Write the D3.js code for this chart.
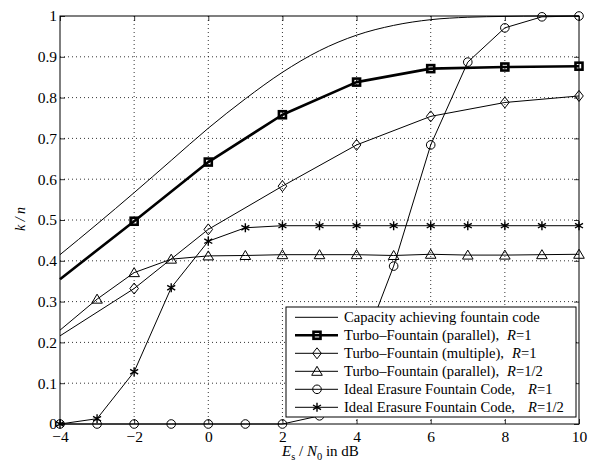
<!DOCTYPE html>
<html lang="en">
<head>
<meta charset="utf-8">
<title>Turbo-Fountain k/n vs Es/N0</title>
<script src="https://d3js.org/d3.v7.min.js"></script>
<style>
  body { margin: 0; background: #fff; }
  svg text { font-family: "Liberation Serif", "Times New Roman", serif; fill: #000; }
</style>
</head>
<body>
<script>
  // ---- data ----
  const capX = [-4, -3, -2, -1, 0, 1, 2, 3, 4, 5, 6, 7, 8, 9, 10];
  const capY = [0.415, 0.49, 0.567, 0.646, 0.725, 0.797, 0.862, 0.915, 0.953, 0.977, 0.991, 0.997, 0.999, 1.0, 1.0];

  const parR1X = [-4, -2, 0, 2, 4, 6, 8, 10];
  const parR1Y = [0.355, 0.497, 0.642, 0.758, 0.838, 0.871, 0.875, 0.877];

  const mulR1X = [-4, -2, 0, 2, 4, 6, 8, 10];
  const mulR1Y = [0.216, 0.332, 0.477, 0.583, 0.684, 0.754, 0.788, 0.804];

  const parR12X = [-4, -3, -2, -1, 0, 1, 2, 3, 4, 5, 6, 7, 8, 9, 10];
  const parR12Y = [0.23, 0.306, 0.371, 0.404, 0.412, 0.413, 0.415, 0.415, 0.415, 0.413, 0.416, 0.414, 0.414, 0.415, 0.416];

  const ideR1X = [-4, -3, -2, -1, 0, 1, 2, 3, 4, 5, 6, 7, 8, 9, 10];
  const ideR1Y = [0, 0, 0, 0, 0, 0, 0, 0.02, 0.15, 0.387, 0.684, 0.887, 0.971, 0.998, 1.0];

  const ideR12X = [-4, -3, -2, -1, 0, 1, 2, 3, 4, 5, 6, 7, 8, 9, 10];
  const ideR12Y = [0, 0.013, 0.128, 0.334, 0.448, 0.481, 0.486, 0.486, 0.486, 0.486, 0.486, 0.486, 0.486, 0.486, 0.486];

  const xTicks = [-4, -2, 0, 2, 4, 6, 8, 10];
  const yTicks = [0, 0.1, 0.2, 0.3, 0.4, 0.5, 0.6, 0.7, 0.8, 0.9, 1];

  const legendLabels = [
    ["Capacity achieving fountain code", ""],
    ["Turbo\u2013Fountain (parallel),", "=1"],
    ["Turbo\u2013Fountain (multiple),", "=1"],
    ["Turbo\u2013Fountain (parallel),", "=1/2"],
    ["Ideal Erasure Fountain Code,", "=1"],
    ["Ideal Erasure Fountain Code,", "=1/2"]
  ];
  // gap (px) before the italic R in each legend row
  const legendGaps = [0, 8, 8, 8, 13, 13];

  // ---- layout ----
  const W = 592, H = 461;
  const pLeft = 60, pRight = 579, pTop = 16, pBottom = 424;
  const serif = "'Liberation Serif', 'Times New Roman', serif";

  const x = d3.scaleLinear().domain([-4, 10]).range([pLeft, pRight]);
  const y = d3.scaleLinear().domain([0, 1]).range([pBottom, pTop]);

  const svg = d3.select("body").append("svg")
    .attr("width", W).attr("height", H)
    .style("font-family", serif);

  // grid
  const grid = svg.append("g")
    .attr("stroke", "#000").attr("stroke-width", 0.8)
    .attr("stroke-dasharray", "1,3");
  grid.selectAll(".gx").data(xTicks.slice(1, -1)).join("line")
    .attr("x1", d => x(d)).attr("x2", d => x(d))
    .attr("y1", pTop).attr("y2", pBottom);
  grid.selectAll(".gy").data(yTicks.slice(1, -1)).join("line")
    .attr("x1", pLeft).attr("x2", pRight)
    .attr("y1", d => y(d)).attr("y2", d => y(d));

  // axes (ticks pointing inward)
  const fmtX = d => d < 0 ? "\u2212" + Math.abs(d) : String(d);
  const fmtY = d => String(d);

  function styleAxis(g) {
    g.select(".domain").remove();
    g.attr("font-family", null);
    g.selectAll("line").attr("stroke", "#000").attr("stroke-width", 0.8);
    g.selectAll("text").attr("font-size", 15.5).attr("fill", "#000")
      .style("font-family", serif);
  }

  svg.append("g").attr("transform", `translate(0,${pBottom})`)
    .call(d3.axisBottom(x).tickValues(xTicks).tickFormat(fmtX).tickSize(-5).tickPadding(7))
    .call(styleAxis);
  svg.append("g").attr("transform", `translate(0,${pTop})`)
    .call(d3.axisTop(x).tickValues(xTicks).tickFormat("").tickSize(-5))
    .call(styleAxis);
  svg.append("g").attr("transform", `translate(${pLeft},0)`)
    .call(d3.axisLeft(y).tickValues(yTicks).tickFormat(fmtY).tickSize(-5).tickPadding(3))
    .call(styleAxis);
  svg.append("g").attr("transform", `translate(${pRight},0)`)
    .call(d3.axisRight(y).tickValues(yTicks).tickFormat("").tickSize(-5))
    .call(styleAxis);

  svg.append("rect")
    .attr("x", pLeft).attr("y", pTop)
    .attr("width", pRight - pLeft).attr("height", pBottom - pTop)
    .attr("fill", "none").attr("stroke", "#000").attr("stroke-width", 1);

  // ---- series ----
  const series = [
    { xs: capX, ys: capY, width: 1, marker: null, curve: d3.curveMonotoneX, skip: 0 },
    { xs: parR1X, ys: parR1Y, width: 2.6, marker: "square", curve: d3.curveLinear, skip: 1 },
    { xs: mulR1X, ys: mulR1Y, width: 1, marker: "diamond", curve: d3.curveLinear, skip: 1 },
    { xs: parR12X, ys: parR12Y, width: 1, marker: "triangle", curve: d3.curveLinear, skip: 1 },
    { xs: ideR1X, ys: ideR1Y, width: 1, marker: "circle", curve: d3.curveLinear, skip: 0 },
    { xs: ideR12X, ys: ideR12Y, width: 1, marker: "star", curve: d3.curveLinear, skip: 0 }
  ];

  function drawMarker(g, type, cx, cy) {
    const m = g.append("g").attr("transform", `translate(${cx},${cy})`)
      .attr("stroke", "#000").attr("fill", "none");
    if (type === "square") {
      m.append("rect").attr("x", -3.5).attr("y", -3.5).attr("width", 7).attr("height", 7)
        .attr("stroke-width", 2.6);
    } else if (type === "diamond") {
      m.append("path").attr("d", "M0,-5.5L4.3,0L0,5.5L-4.3,0Z").attr("stroke-width", 1);
    } else if (type === "triangle") {
      m.append("path").attr("d", "M0,-5L5.3,4L-5.3,4Z").attr("stroke-width", 1);
    } else if (type === "circle") {
      m.append("circle").attr("r", 4.3).attr("stroke-width", 1);
    } else if (type === "star") {
      m.append("path")
        .attr("d", "M0,-4.5L0,4.5M-4,-2.3L4,2.3M-4,2.3L4,-2.3")
        .attr("stroke-width", 1.4);
    }
  }

  const plot = svg.append("g");
  series.forEach(s => {
    const pts = s.xs.map((v, i) => [v, s.ys[i]]);
    plot.append("path")
      .datum(pts)
      .attr("fill", "none").attr("stroke", "#000")
      .attr("stroke-width", s.width)
      .attr("stroke-linejoin", "round")
      .attr("d", d3.line().x(d => x(d[0])).y(d => y(d[1])).curve(s.curve));
    if (s.marker) {
      pts.slice(s.skip).forEach(p => drawMarker(plot, s.marker, x(p[0]), y(p[1])));
    }
  });

  // ---- legend ----
  const lg = svg.append("g");
  const lx = 286, ly = 307, lw = 290, lh = 110;
  lg.append("rect").attr("x", lx).attr("y", ly).attr("width", lw).attr("height", lh)
    .attr("fill", "#fff").attr("stroke", "#000").attr("stroke-width", 1);

  legendLabels.forEach((lab, i) => {
    const cy = ly + 10.3 + i * 18;
    const s = series[i];
    lg.append("line").attr("x1", lx + 9).attr("x2", lx + 52)
      .attr("y1", cy).attr("y2", cy)
      .attr("stroke", "#000").attr("stroke-width", s.width);
    if (s.marker) drawMarker(lg, s.marker, lx + 31, cy);
    const t = lg.append("text").attr("x", lx + 58).attr("y", cy + 4.8)
      .attr("font-size", 14.6);
    t.append("tspan").text(lab[0]);
    if (lab[1]) {
      t.append("tspan").attr("dx", legendGaps[i]).attr("font-style", "italic").text("R");
      t.append("tspan").text(lab[1]);
    }
  });

  // ---- axis labels ----
  const xl = svg.append("text").attr("x", 282).attr("y", 456)
    .attr("font-size", 15);
  xl.append("tspan").attr("font-style", "italic").text("E");
  xl.append("tspan").attr("font-size", 10.5).attr("dy", 4).text("s");
  xl.append("tspan").attr("dy", -4).text("\u00a0/\u00a0");
  xl.append("tspan").attr("font-style", "italic").text("N");
  xl.append("tspan").attr("font-size", 10.5).attr("dy", 4).text("0");
  xl.append("tspan").attr("dy", -4).text(" in dB");

  svg.append("text")
    .attr("transform", "translate(25,219) rotate(-90)")
    .attr("text-anchor", "middle").attr("font-size", 14)
    .attr("font-style", "italic")
    .text("k / n");
</script>
</body>
</html>
